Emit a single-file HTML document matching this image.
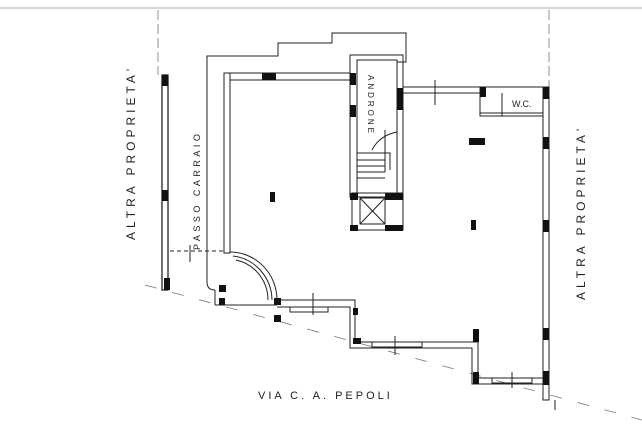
<!DOCTYPE html>
<html><head><style>
html,body{margin:0;padding:0;background:#fff;}
svg{display:block;}
text{font-family:"Liberation Sans",sans-serif;fill:#222;}
</style></head><body>
<svg width="642" height="444" viewBox="0 0 642 444" xmlns="http://www.w3.org/2000/svg">
<line x1="0" y1="8" x2="642" y2="8" stroke="#ccc" stroke-width="1.5"/>
<g stroke="#222" fill="none" stroke-width="1">
<line x1="158" y1="10" x2="158" y2="75" stroke-dasharray="10,4" stroke="#777" stroke-width="0.8"/>
<line x1="549" y1="10" x2="549" y2="88" stroke-dasharray="10,4" stroke="#777" stroke-width="0.8"/>
<line x1="555" y1="400" x2="555" y2="410"/>
<line x1="145" y1="285" x2="642" y2="420" stroke-dasharray="12,16" stroke="#777" stroke-width="0.8"/>
<rect x="162" y="75" width="6" height="215" stroke-width="1.3"/>
<polyline points="207,282 207,56 278,56 278,43 332,43 332,33 406,33 406,62 397,62"/>
<path d="M207,282 Q207,290 215,290"/>
<rect x="224" y="73" width="6" height="180"/>
<line x1="230" y1="80" x2="350" y2="80"/>
<line x1="224" y1="73" x2="350" y2="73"/>
<path d="M230,252 A47,48 0 0 1 277,300"/>
<path d="M233,256 A44,45 0 0 1 272,300"/>
<path d="M236,260 A40,41 0 0 1 268,300"/>
<line x1="170" y1="251" x2="224" y2="251" stroke-dasharray="4,3"/>
<line x1="190" y1="245" x2="190" y2="262"/>
<rect x="350" y="55" width="53" height="142"/>
<rect x="357" y="60" width="40" height="137"/>
<rect x="352" y="193" width="51" height="37"/>
<rect x="360" y="198" width="25" height="26"/>
<line x1="360" y1="198" x2="385" y2="224"/><line x1="385" y1="198" x2="360" y2="224"/>
<path d="M357,153 H390 V170 M357,160 H385 M357,166 H385 M357,172 H385 M357,178 H385 M385,130 V172 M372,150 Q380,135 397,132"/>
<line x1="403" y1="87" x2="548" y2="87"/>
<line x1="403" y1="93" x2="480" y2="93"/>
<line x1="435" y1="80" x2="435" y2="105"/>
<rect x="543" y="87" width="6" height="313"/>
<rect x="480" y="87" width="63" height="29"/>
<line x1="480" y1="113" x2="543" y2="113"/>
<line x1="502" y1="93" x2="502" y2="116"/>
<polyline points="277,300 355,300 355,342 478,342 478,378 548,378"/>
<polyline points="277,307 350,307 350,348 472,348 472,384 548,384"/>
<rect x="290" y="307" width="38" height="5"/>
<rect x="372" y="342" width="50" height="5"/>
<rect x="492" y="378" width="40" height="5"/>
<line x1="313" y1="293" x2="313" y2="315"/>
<line x1="395" y1="336" x2="395" y2="355"/>
<line x1="512" y1="372" x2="512" y2="388"/>
<line x1="215" y1="290" x2="215" y2="305"/>
<line x1="215" y1="305" x2="277" y2="305"/>
</g>
<g fill="#111">
<rect x="162" y="75" width="6" height="11"/><rect x="162" y="190" width="6" height="11"/><rect x="164" y="278" width="6" height="12"/>
<rect x="219" y="285" width="7" height="7"/><rect x="219" y="298" width="6" height="7"/>
<rect x="274" y="298" width="7" height="7"/><rect x="274" y="315" width="7" height="7"/>
<rect x="262" y="73" width="14" height="7"/>
<rect x="350" y="73" width="6" height="12"/><rect x="350" y="105" width="6" height="12"/>
<rect x="397" y="88" width="6" height="22"/>
<rect x="350" y="193" width="8" height="7"/><rect x="385" y="193" width="18" height="7"/>
<rect x="350" y="225" width="8" height="6"/><rect x="385" y="225" width="18" height="6"/>
<rect x="480" y="87" width="6" height="10"/><rect x="543" y="87" width="6" height="12"/>
<rect x="543" y="137" width="6" height="12"/><rect x="543" y="220" width="6" height="12"/>
<rect x="543" y="328" width="6" height="12"/><rect x="543" y="371" width="6" height="14"/>
<rect x="473" y="329" width="6" height="13"/><rect x="473" y="372" width="6" height="12"/>
<rect x="353" y="338" width="8" height="6"/><rect x="353" y="308" width="5" height="7"/>
<rect x="270" y="192" width="5" height="10"/><rect x="469" y="138" width="16" height="7"/><rect x="471" y="220" width="5" height="10"/>
</g>
<text transform="translate(135,240) rotate(-90)" font-size="12" letter-spacing="4">ALTRA PROPRIETA'</text>
<text transform="translate(200,250) rotate(-90)" font-size="9" letter-spacing="3.5">PASSO CARRAIO</text>
<text transform="translate(368,75) rotate(90)" font-size="8" letter-spacing="3">ANDRONE</text>
<text x="512" y="107" font-size="9">W.C.</text>
<text transform="translate(585,300) rotate(-90)" font-size="12" letter-spacing="4">ALTRA PROPRIETA'</text>
<text x="258" y="399" font-size="11" letter-spacing="3">VIA C. A. PEPOLI</text>
</svg>
</body></html>
